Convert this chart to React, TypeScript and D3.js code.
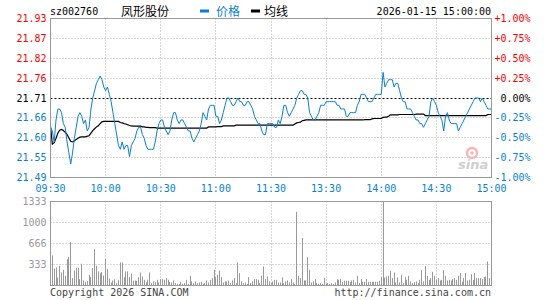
import React from 'react';
import * as d3 from 'd3';

const stockCode = 'sz002760';
const stockName = '凤形股份';
const legendLabels = ['价格', '均线'];
const timestamp = '2026-01-15 15:00:00';
const prevClose = 21.71;
const timeTicks = [0, 30, 60, 90, 120, 150, 180, 210, 240];
const timeLabels = ['09:30', '10:00', '10:30', '11:00', '11:30', '13:30', '14:00', '14:30', '15:00'];
const pctSteps = [1, 0.75, 0.5, 0.25, 0, -0.25, -0.5, -0.75, -1];
const volumeTicks = [1333, 1000, 666, 333];
const copyright = 'Copyright 2026 SINA.COM';
const siteUrl = 'http://finance.sina.com.cn';

// one value per trading minute (09:30 .. 11:30, 13:01 .. 15:00)
const prices = [
  21.63, 21.62, 21.59, 21.65, 21.68, 21.68, 21.67, 21.64, 21.63, 21.59,
  21.56, 21.53, 21.56, 21.60, 21.63, 21.66, 21.67, 21.66, 21.64, 21.65,
  21.62, 21.63, 21.68, 21.71, 21.73, 21.75, 21.76, 21.77, 21.76, 21.74,
  21.73, 21.74, 21.72, 21.70, 21.67, 21.64, 21.61, 21.58, 21.57, 21.59,
  21.57, 21.58, 21.58, 21.55, 21.58, 21.59, 21.60, 21.62, 21.63, 21.63,
  21.61, 21.60, 21.58, 21.57, 21.57, 21.57, 21.57, 21.59, 21.62, 21.64,
  21.65, 21.65, 21.63, 21.62, 21.61, 21.62, 21.65, 21.67, 21.67, 21.65,
  21.64, 21.65, 21.65, 21.64, 21.63, 21.62, 21.62, 21.60, 21.59, 21.60,
  21.61, 21.62, 21.64, 21.67, 21.66, 21.65, 21.68, 21.69, 21.69, 21.69,
  21.66, 21.66, 21.64, 21.65, 21.67, 21.69, 21.71, 21.71, 21.70, 21.69,
  21.69, 21.70, 21.71, 21.70, 21.70, 21.69, 21.69, 21.70, 21.70, 21.69,
  21.68, 21.66, 21.65, 21.64, 21.64, 21.62, 21.61, 21.61, 21.64, 21.64,
  21.64, 21.64, 21.63, 21.63, 21.65, 21.64, 21.66, 21.69, 21.69, 21.67,
  21.66, 21.67, 21.68, 21.69, 21.71, 21.72, 21.73, 21.73, 21.72, 21.72,
  21.71, 21.67, 21.66, 21.65, 21.65, 21.66, 21.67, 21.69, 21.69, 21.69,
  21.70, 21.70, 21.70, 21.70, 21.70, 21.70, 21.69, 21.69, 21.68, 21.68,
  21.68, 21.66, 21.66, 21.67, 21.67, 21.67, 21.67, 21.69, 21.70, 21.72,
  21.72, 21.72, 21.71, 21.70, 21.70, 21.70, 21.71, 21.72, 21.72, 21.72,
  21.72, 21.78, 21.74, 21.75, 21.76, 21.76, 21.76, 21.74, 21.75, 21.75,
  21.73, 21.71, 21.70, 21.70, 21.68, 21.68, 21.68, 21.67, 21.66, 21.65,
  21.65, 21.64, 21.64, 21.63, 21.64, 21.65, 21.66, 21.70, 21.71, 21.70,
  21.69, 21.67, 21.66, 21.65, 21.62, 21.66, 21.67, 21.65, 21.64, 21.64,
  21.64, 21.64, 21.62, 21.63, 21.64, 21.65, 21.66, 21.67, 21.68, 21.69,
  21.70, 21.71, 21.71, 21.71, 21.70, 21.71, 21.70, 21.69, 21.68, 21.68,
  21.68,
];

const avgPrices = [
  21.633, 21.584, 21.588, 21.600, 21.614, 21.622, 21.624, 21.621, 21.616, 21.611,
  21.601, 21.592, 21.590, 21.593, 21.597, 21.600, 21.603, 21.604, 21.604, 21.604,
  21.606, 21.607, 21.614, 21.621, 21.626, 21.631, 21.634, 21.640, 21.645, 21.646,
  21.646, 21.646, 21.646, 21.646, 21.646, 21.646, 21.646, 21.646, 21.643, 21.642,
  21.640, 21.639, 21.637, 21.635, 21.634, 21.633, 21.633, 21.633, 21.633, 21.633,
  21.631, 21.631, 21.630, 21.630, 21.629, 21.629, 21.629, 21.629, 21.628, 21.628,
  21.628, 21.628, 21.628, 21.628, 21.628, 21.628, 21.628, 21.628, 21.628, 21.628,
  21.628, 21.628, 21.628, 21.628, 21.628, 21.628, 21.628, 21.628, 21.628, 21.628,
  21.628, 21.628, 21.628, 21.628, 21.628, 21.628, 21.631, 21.631, 21.631, 21.631,
  21.631, 21.632, 21.632, 21.632, 21.634, 21.634, 21.634, 21.634, 21.634, 21.634,
  21.634, 21.636, 21.636, 21.636, 21.636, 21.636, 21.636, 21.636, 21.636, 21.636,
  21.636, 21.636, 21.636, 21.636, 21.636, 21.636, 21.636, 21.636, 21.636, 21.636,
  21.636, 21.636, 21.636, 21.636, 21.636, 21.636, 21.636, 21.636, 21.636, 21.636,
  21.636, 21.636, 21.636, 21.639, 21.642, 21.643, 21.644, 21.648, 21.649, 21.650,
  21.650, 21.650, 21.650, 21.650, 21.650, 21.650, 21.650, 21.650, 21.650, 21.650,
  21.650, 21.650, 21.650, 21.650, 21.650, 21.650, 21.650, 21.650, 21.650, 21.650,
  21.650, 21.650, 21.650, 21.650, 21.650, 21.650, 21.650, 21.650, 21.650, 21.650,
  21.650, 21.651, 21.651, 21.651, 21.651, 21.653, 21.654, 21.654, 21.654, 21.654,
  21.654, 21.657, 21.658, 21.658, 21.660, 21.664, 21.664, 21.664, 21.664, 21.664,
  21.665, 21.665, 21.665, 21.665, 21.665, 21.665, 21.665, 21.665, 21.665, 21.666,
  21.666, 21.666, 21.666, 21.666, 21.662, 21.662, 21.662, 21.662, 21.662, 21.662,
  21.662, 21.662, 21.662, 21.662, 21.662, 21.662, 21.662, 21.662, 21.662, 21.662,
  21.662, 21.662, 21.662, 21.662, 21.662, 21.662, 21.662, 21.662, 21.662, 21.662,
  21.662, 21.662, 21.662, 21.662, 21.662, 21.662, 21.662, 21.662, 21.665, 21.665,
  21.665,
];

const volumes = [
  80, 477, 265, 286, 127, 313, 207, 249, 154, 418,
  455, 688, 117, 239, 281, 281, 101, 345, 80, 59,
  69, 170, 133, 276, 577, 313, 223, 196, 212, 159,
  424, 260, 112, 48, 80, 96, 38, 90, 366, 366,
  133, 223, 223, 133, 186, 80, 80, 75, 133, 207,
  143, 90, 48, 90, 207, 38, 64, 53, 90, 48,
  101, 106, 90, 117, 90, 59, 48, 80, 38, 27,
  22, 59, 27, 38, 90, 27, 154, 64, 38, 64,
  38, 48, 59, 27, 38, 80, 48, 90, 117, 249,
  133, 170, 239, 133, 48, 64, 64, 80, 38, 80,
  117, 38, 366, 196, 64, 38, 48, 27, 133, 38,
  64, 101, 101, 90, 38, 154, 302, 101, 143, 64,
  38, 64, 90, 90, 48, 48, 127, 38, 64, 80,
  48, 101, 48, 27, 1170, 154, 117, 752, 80, 80,
  450, 249, 48, 64, 101, 38, 27, 38, 27, 122,
  27, 38, 27, 38, 27, 48, 101, 90, 101, 53,
  75, 75, 75, 53, 80, 90, 48, 154, 38, 101,
  59, 59, 101, 59, 59, 59, 59, 59, 59, 75,
  133, 1500, 127, 143, 154, 233, 117, 207, 48, 127,
  48, 170, 38, 133, 90, 154, 64, 38, 53, 64,
  38, 90, 244, 64, 307, 154, 90, 117, 217, 154,
  90, 117, 80, 90, 244, 154, 80, 90, 80, 101,
  117, 90, 154, 196, 59, 117, 196, 80, 90, 180,
  90, 196, 117, 117, 117, 101, 133, 143, 381, 117,
  60,
];

const RED = '#ff0000';
const BLUE = '#0a7fd2';
const GRID = '#b0b0b0';
const FRAME = '#999999';
const MONO = '"DejaVu Sans Mono", "Liberation Mono", monospace';
const CJK = '"Noto Sans CJK SC", sans-serif';

export default function App() {
  const W = 545;
  const H = 300;
  const left = 50.5;
  const right = 491.5;
  const pTop = 18.5;
  const pBot = 177.5;
  const vTop = 201.5;
  const vBot = 285.5;

  const x = d3.scaleLinear().domain([0, 240]).range([left, right]);
  const y = d3.scaleLinear().domain([prevClose * 0.99, prevClose * 1.01]).range([pBot, pTop]);
  const yv = d3.scaleLinear().domain([0, 1333]).range([vBot, vTop]).clamp(true);
  const px = (m: number) => Math.floor(x(m)) + 0.5;

  const priceLine = d3.line<number>().x((_, i) => x(i)).y((d) => y(d))(prices) || '';
  const avgLine = d3.line<number>().x((_, i) => x(i)).y((d) => y(d))(avgPrices) || '';

  const colorFor = (p: number) => (p > 0 ? RED : p < 0 ? BLUE : '#000');

  return (
    <svg width={W} height={H} style={{ position: 'absolute', left: 0, top: 0, background: '#fff' }}>
      <rect x={0} y={0} width={W} height={H} fill="#fff" />
      {/* header */}
      <text x={50} y={15} fontFamily={MONO} fontSize={10} fill="#000">{stockCode}</text>
      <text x={121} y={15.5} fontFamily={CJK} fontSize={12} fill="#000">{stockName}</text>
      <rect x={200} y={9.5} width={9} height={3} fill={BLUE} />
      <text x={216} y={15.5} fontFamily={CJK} fontSize={12} fill={BLUE}>{legendLabels[0]}</text>
      <rect x={251} y={9.5} width={9} height={3} fill="#000" />
      <text x={264} y={15.5} fontFamily={CJK} fontSize={12} fill="#000">{legendLabels[1]}</text>
      <text x={491} y={15} textAnchor="end" fontFamily={MONO} fontSize={10} fill="#000">{timestamp}</text>

      {/* price grid */}
      {pctSteps.map((p) => {
        const yy = Math.round(y(prevClose * (1 + p / 100)) - 0.5) + 0.5;
        if (p === 1 || p === -1) return null;
        return (
          <line key={'h' + p} x1={left} x2={right} y1={yy} y2={yy}
            stroke={p === 0 ? '#000' : GRID} strokeDasharray={p === 0 ? '2,2' : '1,2'} />
        );
      })}
      {timeTicks.slice(1, -1).map((t) => (
        <g key={'v' + t}>
          <line x1={px(t)} x2={px(t)} y1={pTop} y2={pBot} stroke={GRID} strokeDasharray="1,2" />
          <line x1={px(t)} x2={px(t)} y1={vTop} y2={vBot} stroke={GRID} strokeDasharray="1,2" />
        </g>
      ))}
      {volumeTicks.slice(1).map((v) => (
        <line key={'vh' + v} x1={left} x2={right} y1={Math.round(yv(v) - 0.5) + 0.5} y2={Math.round(yv(v) - 0.5) + 0.5}
          stroke={GRID} strokeDasharray="1,2" />
      ))}

      {/* watermark */}
      <circle cx={472} cy={153} r={5} fill="none" stroke="#f2b8b8" strokeWidth={2.5} />
      <circle cx={472} cy={153} r={1.8} fill="#f2b8b8" />
      <text x={458} y={168.5} fontFamily='"DejaVu Sans", sans-serif' fontStyle="italic" fontWeight="bold" fontSize={13} fill="#cfcfcf">sina</text>

      {/* volume bars */}
      {volumes.map((v, i) => (
        <line key={'b' + i} x1={px(i)} x2={px(i)} y1={vBot} y2={yv(v)} stroke="#999" strokeWidth={1} />
      ))}

      {/* lines */}
      <path d={avgLine} fill="none" stroke="#000" strokeWidth={1.2} />
      <path d={priceLine} fill="none" stroke={BLUE} strokeWidth={1} />

      {/* frames */}
      <rect x={left} y={pTop} width={right - left} height={pBot - pTop} fill="none" stroke={FRAME} />
      <rect x={left} y={vTop} width={right - left} height={vBot - vTop} fill="none" stroke={FRAME} />

      {/* left price labels */}
      {pctSteps.map((p) => (
        <text key={'lp' + p} x={46.5} y={y(prevClose * (1 + p / 100))} dy="0.35em" textAnchor="end"
          fontFamily={MONO} fontSize={10} fill={colorFor(p)}>
          {(prevClose * (1 + p / 100)).toFixed(2)}
        </text>
      ))}
      {/* right percent labels */}
      {pctSteps.map((p) => (
        <text key={'rp' + p} x={530.5} y={y(prevClose * (1 + p / 100))} dy="0.35em" textAnchor="end"
          fontFamily={MONO} fontSize={10} fill={colorFor(p)}>
          {(p > 0 ? '+' : '') + p.toFixed(2) + '%'}
        </text>
      ))}
      {/* time labels */}
      {timeTicks.map((t, i) => (
        <text key={'t' + t} x={x(t)} y={188.5} dy="0.35em" textAnchor="middle" fontFamily={MONO} fontSize={10} fill={BLUE}>
          {timeLabels[i]}
        </text>
      ))}
      {/* volume labels */}
      {volumeTicks.map((v) => (
        <text key={'vl' + v} x={46.5} y={yv(v)} dy="0.35em" textAnchor="end" fontFamily={MONO} fontSize={10} fill="#999">
          {v}
        </text>
      ))}

      {/* footer */}
      <text x={50} y={296} fontFamily={MONO} fontSize={10} fill="#444">{copyright}</text>
      <text x={491} y={296} textAnchor="end" fontFamily={MONO} fontSize={10} fill="#444">{siteUrl}</text>
    </svg>
  );
}
